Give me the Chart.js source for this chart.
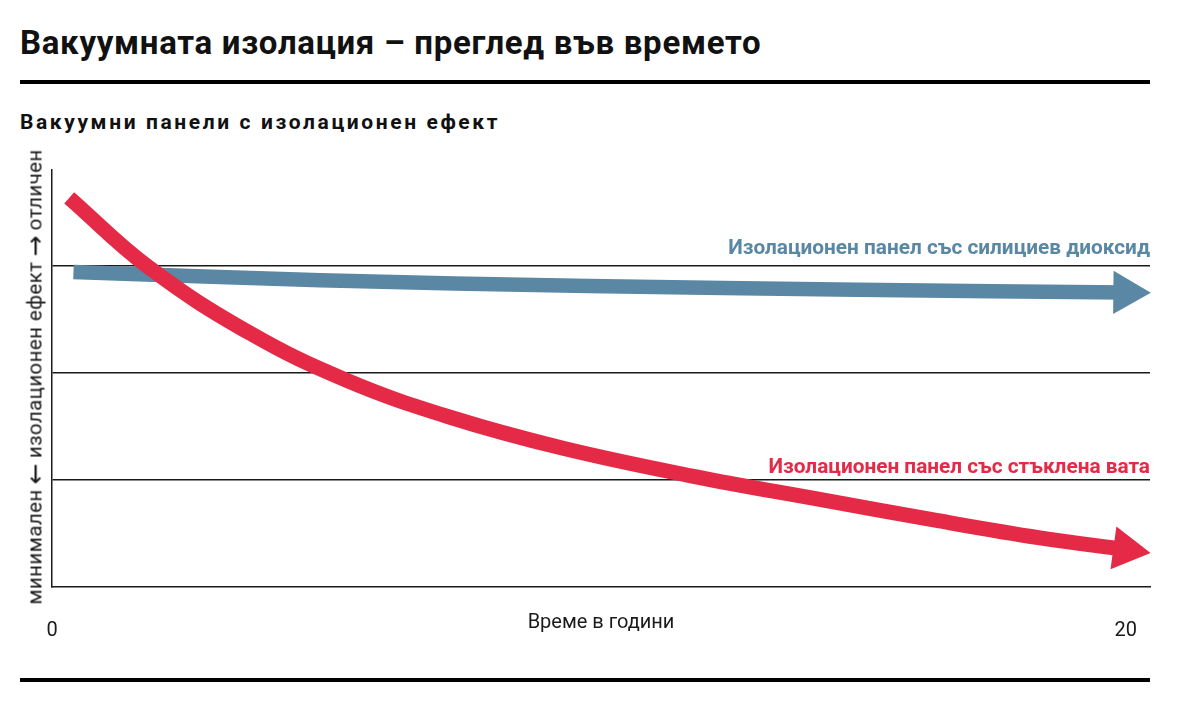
<!DOCTYPE html>
<html lang="bg">
<head>
<meta charset="utf-8">
<title>Вакуумната изолация – преглед във времето</title>
<script src="https://cdn.jsdelivr.net/npm/chart.js"></script>
<style>
  html, body { margin: 0; padding: 0; background: #fff; }
  body { width: 1200px; height: 702px; position: relative; overflow: hidden;
         font-family: Roboto, 'Noto Sans', sans-serif; color: #111; }
  h1 { position: absolute; left: 20px; top: 26px; margin: 0; font-size: 33px; line-height: 1; font-weight: 700; letter-spacing: 0.7px; }
  h2 { position: absolute; left: 20px; top: 112px; margin: 0; font-size: 21px; line-height: 1; font-weight: 700; letter-spacing: 2.6px; }
  .rule { position: absolute; left: 20px; width: 1130px; height: 4px; background: #000; }
  #wrap { position: absolute; left: 0; top: 140px; width: 1200px; height: 507px; }
  #ytitle { position: absolute; left: 35px; top: 377px; white-space: nowrap; font-size: 20.5px; letter-spacing: 0.4px;
            line-height: 1; color: #1a1a1a; transform: translate(-50%, -50%) rotate(-90deg); }
  #ytitle .arr { font-family: 'DejaVu Sans', sans-serif; font-size: 25px; line-height: 1; margin: 0 5px; vertical-align: -2px; }
</style>
</head>
<body>
<h1>Вакуумната изолация – преглед във времето</h1>
<div class="rule" style="top:80px"></div>
<h2>Вакуумни панели с изолационен ефект</h2>
<div id="wrap"><canvas id="chart"></canvas></div>
<div id="ytitle">минимален<span class="arr">←</span>изолационен ефект<span class="arr">→</span>отличен</div>
<div class="rule" style="top:678px"></div>
<script>
// values (x = years, y = insulation effect, arbitrary units)
const redLabel = 'Изолационен панел със стъклена вата';
const redYears = [0.32, 1.8, 3.7, 5.5, 7.4, 9.5, 11.9, 14.4, 16.5, 18.4, 20];
const redValues = [3.64, 2.99, 2.37, 1.93, 1.59, 1.30, 1.04, 0.81, 0.62, 0.46, 0.35];

const blueLabel = 'Изолационен панел със силициев диоксид';
const blueYears = [0.4, 5, 10, 15, 20];
const blueValues = [2.945, 2.87, 2.815, 2.78, 2.755];

const xTicks = [0, 20];
const xTitle = 'Време в години';

const RED = '#e42a46';
const BLUE = '#5a87a4';
const INK = '#1a1a1a';

Chart.defaults.font.family = 'Roboto, "Noto Sans", sans-serif';
Chart.defaults.color = INK;

const toPoints = (xs, ys) => xs.map((x, i) => ({ x: x, y: ys[i] }));

// arrow head: a triangle on the last point, turned along the last segment
function arrowRadius(ctx) {
  return ctx.dataIndex === ctx.dataset.data.length - 1 ? 25 : 0;
}
function arrowRotation(ctx) {
  const d = ctx.dataset.data;
  const n = d.length;
  if (ctx.dataIndex !== n - 1) return 0;
  const { x, y } = ctx.chart.scales;
  const dx = x.getPixelForValue(d[n - 1].x) - x.getPixelForValue(d[n - 2].x);
  const dy = y.getPixelForValue(d[n - 1].y) - y.getPixelForValue(d[n - 2].y);
  return Math.atan2(dy, dx) * 180 / Math.PI + 90;
}

const seriesLabels = {
  id: 'seriesLabels',
  afterDatasetsDraw(chart) {
    const { ctx, chartArea, scales } = chart;
    ctx.save();
    ctx.font = 'bold 20.8px Roboto, "Noto Sans", sans-serif';
    ctx.textAlign = 'right';
    ctx.textBaseline = 'alphabetic';
    chart.data.datasets.forEach(ds => {
      ctx.fillStyle = ds.borderColor;
      ctx.fillText(ds.label, chartArea.right, scales.y.getPixelForValue(ds.labelAt));
    });
    ctx.restore();
  }
};

new Chart(document.getElementById('chart'), {
  type: 'line',
  data: {
    datasets: [
      {
        label: redLabel,
        labelAt: 1.07,
        data: toPoints(redYears, redValues),
        borderColor: RED,
        backgroundColor: RED,
        borderWidth: 15,
        tension: 0.4,
        pointStyle: 'triangle',
        pointRadius: arrowRadius,
        pointRotation: arrowRotation,
        pointBorderWidth: 0,
        pointBackgroundColor: RED,
        clip: false
      },
      {
        label: blueLabel,
        labelAt: 3.11,
        data: toPoints(blueYears, blueValues),
        borderColor: BLUE,
        backgroundColor: BLUE,
        borderWidth: 14.5,
        tension: 0.4,
        pointStyle: 'triangle',
        pointRadius: arrowRadius,
        pointRotation: arrowRotation,
        pointBorderWidth: 0,
        pointBackgroundColor: BLUE,
        clip: false
      }
    ]
  },
  options: {
    responsive: true,
    maintainAspectRatio: false,
    animation: false,
    events: [],
    layout: { padding: { top: 30, right: 50, left: 0, bottom: 0 } },
    plugins: {
      legend: { display: false },
      tooltip: { enabled: false }
    },
    scales: {
      x: {
        type: 'linear',
        min: 0,
        max: 20.45,
        afterBuildTicks: s => { s.ticks = xTicks.map(v => ({ value: v })); },
        afterFit: s => { s.height = 60; },
        ticks: {
          autoSkip: false,
          maxRotation: 0,
          padding: 24,
          font: { size: 20 },
          callback: v => String(v)
        },
        grid: { display: false },
        border: { display: true, color: INK, width: 1.5 },
        title: {
          display: true,
          text: xTitle,
          font: { size: 20 },
          padding: { top: 0, bottom: 12 }
        }
      },
      y: {
        min: 0,
        max: 3.9,
        afterFit: s => { s.width = 52; },
        ticks: { display: false, stepSize: 1 },
        grid: {
          drawTicks: false,
          lineWidth: 1.5,
          color: c => [1, 2, 3].includes(c.tick && c.tick.value) ? INK : 'transparent'
        },
        border: { display: true, color: INK, width: 1.5 }
      }
    }
  },
  plugins: [seriesLabels]
});
</script>
</body>
</html>
